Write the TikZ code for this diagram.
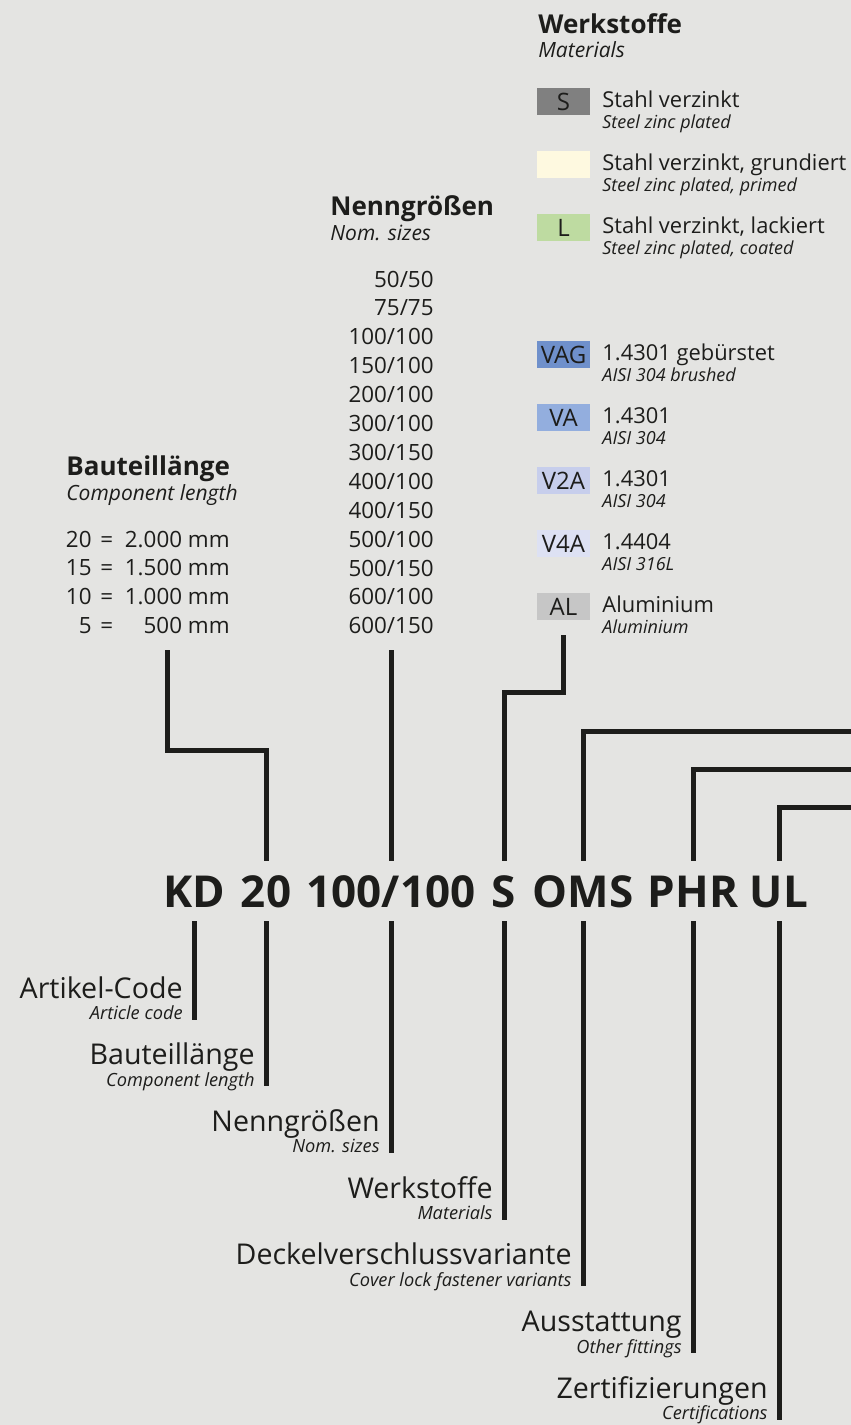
\documentclass[tikz,border=0pt]{standalone}
\usepackage{fontspec}
\setmainfont{Open Sans}
\usetikzlibrary{positioning, calc}
\definecolor{tinte}{HTML}{1D1D1B}
\definecolor{grund}{HTML}{E4E4E2}
\definecolor{stahl}{HTML}{808080}
\definecolor{grundiert}{HTML}{FEF9E0}
\definecolor{lackiert}{HTML}{BEDBA1}
\definecolor{vag}{HTML}{6F90CB}
\definecolor{va}{HTML}{93AEDE}
\definecolor{vzwei}{HTML}{C7CEEC}
\definecolor{vvier}{HTML}{DDE1F3}
\definecolor{alu}{HTML}{C6C6C6}
\tikzset{
  code/.style={anchor=base, inner xsep=0pt, inner ysep=7pt, text height=16pt, text depth=0pt,
               font=\fontsize{22}{24}\selectfont\bfseries, text=tinte},
  lbl/.style={anchor=base east, inner sep=0pt, font=\fontsize{14.3}{16}\selectfont, text=tinte},
  lblsub/.style={anchor=base east, inner sep=0pt, font=\fontsize{9.1}{11}\selectfont\itshape, text=tinte},
  kopf/.style={anchor=base west, inner sep=0pt, font=\fontsize{13}{15}\selectfont\bfseries, text=tinte},
  kopfsub/.style={anchor=base west, inner sep=0pt, font=\fontsize{10.5}{12}\selectfont\itshape, text=tinte},
  eintrag/.style={anchor=base west, inner sep=0pt, font=\fontsize{10.95}{13}\selectfont, text=tinte},
  eintragsub/.style={anchor=base west, inner sep=0pt, font=\fontsize{9}{11}\selectfont\itshape, text=tinte},
  feld/.style={rectangle, minimum width=26.5pt, minimum height=13.5pt, inner sep=0pt,
               text height=8.5pt, text depth=0pt, font=\fontsize{12}{14}\selectfont, text=tinte},
  zahl/.style={anchor=base east, inner sep=0pt, font=\fontsize{11.2}{13}\selectfont, text=tinte},
  zahll/.style={anchor=base west, inner sep=0pt, font=\fontsize{11.2}{13}\selectfont, text=tinte},
  balken/.style={line width=2.5pt, draw=tinte}
}
\begin{document}
\begin{tikzpicture}[x=0.5pt, y=-0.5pt]
  \fill [grund] (0,0) rectangle (851,1425);
  \useasboundingbox (0,0) rectangle (851,1425);

  % Werkstoffe
  \node (hW) [kopf] at (538,33) {Werkstoffe};
  \node (hWs) [kopfsub] at (538,57) {Materials};
  \node (fS) [feld, fill=stahl] at (563.5,101.5) {S};
  \node (eS) [eintrag] at (602,107) {Stahl verzinkt};
  \node (eSs) [eintragsub] at (602,128) {Steel zinc plated};
  \node (fG) [feld, fill=grundiert] at (563.5,164.5) {};
  \node (eG) [eintrag] at (602,170) {Stahl verzinkt, grundiert};
  \node (eGs) [eintragsub] at (602,191) {Steel zinc plated, primed};
  \node (fL) [feld, fill=lackiert] at (563.5,227.5) {L};
  \node (eL) [eintrag] at (602,233) {Stahl verzinkt, lackiert};
  \node (eLs) [eintragsub] at (602,254) {Steel zinc plated, coated};
  \node (fVAG) [feld, fill=vag] at (563.5,354.5) {VAG};
  \node (eVAG) [eintrag] at (602,360) {1.4301 gebürstet};
  \node (eVAGs) [eintragsub] at (602,381) {AISI 304 brushed};
  \node (fVA) [feld, fill=va] at (563.5,417.5) {VA};
  \node (eVA) [eintrag] at (602,423) {1.4301};
  \node (eVAs) [eintragsub] at (602,444) {AISI 304};
  \node (fV2A) [feld, fill=vzwei] at (563.5,480.5) {V2A};
  \node (eV2A) [eintrag] at (602,486) {1.4301};
  \node (eV2As) [eintragsub] at (602,507) {AISI 304};
  \node (fV4A) [feld, fill=vvier] at (563.5,543.5) {V4A};
  \node (eV4A) [eintrag] at (602,549) {1.4404};
  \node (eV4As) [eintragsub] at (602,570) {AISI 316L};
  \node (fAL) [feld, fill=alu] at (563.5,606.5) {AL};
  \node (eAL) [eintrag] at (602,612) {Aluminium};
  \node (eALs) [eintragsub] at (602,633) {Aluminium};

  % Nenngroessen
  \node (hN) [kopf] at (330,215) {Nenngrößen};
  \node (hNs) [kopfsub] at (330,240) {Nom. sizes};
  \foreach \a/\b [count=\k from 0] in {50/50, 75/75, 100/100, 150/100, 200/100, 300/100, 300/150,
      400/100, 400/150, 500/100, 500/150, 600/100, 600/150}
    \node (nz\k) [zahl] at (434,{287+28.9*\k}) {\a/\b};

  % Bauteillaenge
  \node (hB) [kopf] at (66,475) {Bauteillänge};
  \node (hBs) [kopfsub] at (66,500) {Component length};
  \foreach \n/\mm [count=\k from 0] in {20/2.000, 15/1.500, 10/1.000, 5/500} {
    \node (bl\k) [zahl] at (92,{547+28.9*\k}) {\n};
    \node (bq\k) [zahll] at (100,{547+28.9*\k}) {=};
    \node (bm\k) [zahl] at (230,{547+28.9*\k}) {\mm\ mm};
  }

  % Artikelnummer
  \node (tKD) [code] at (194,907) {KD};
  \node (t20) [code] at (266,907) {20};
  \node (t100) [code] at (391,907) {100/100};
  \node (tS) [code] at (504,907) {S};
  \node (tOMS) [code] at (583,907) {OMS};
  \node (tPHR) [code] at (693,907) {PHR};
  \node (tUL) [code] at (779,907) {UL};

  \coordinate (knieB) at (167,750);
  \coordinate (obenB) at (167,650);
  \coordinate (knieS) at (563.5,692);
  \coordinate (rOMS) at (860,731);
  \coordinate (rPHR) at (860,769);
  \coordinate (rUL) at (860,807);
  \draw [balken] (t20.north) |- (knieB) -- (obenB);
  \draw [balken] (t100.north) -- (t100.north |- obenB);
  \draw [balken] (tS.north) |- (knieS) -- ([yshift=-7.5pt]fAL.south);
  \draw [balken] (tOMS.north) |- (rOMS);
  \draw [balken] (tPHR.north) |- (rPHR);
  \draw [balken] (tUL.north) |- (rUL);

  % Beschriftung unten
  \node (lKD) [lbl] at (183,998) {Artikel-Code};
  \node (lKDs) [lblsub] at (183,1019.5) {Article code};
  \node (l20) [lbl] at (255,1064.7) {Bauteillänge};
  \node (l20s) [lblsub] at (255,1086.2) {Component length};
  \node (l100) [lbl] at (380,1131.4) {Nenngrößen};
  \node (l100s) [lblsub] at (380,1152.9) {Nom. sizes};
  \node (lS) [lbl] at (493,1198.1) {Werkstoffe};
  \node (lSs) [lblsub] at (493,1219.6) {Materials};
  \node (lOMS) [lbl] at (572,1264.8) {Deckelverschlussvariante};
  \node (lOMSs) [lblsub] at (572,1286.3) {Cover lock fastener variants};
  \node (lPHR) [lbl] at (682,1331.5) {Ausstattung};
  \node (lPHRs) [lblsub] at (682,1353) {Other fittings};
  \node (lUL) [lbl] at (768,1398.2) {Zertifizierungen};
  \node (lULs) [lblsub] at (768,1419.7) {Certifications};

  \draw [balken] (tKD.south) -- (tKD.south |- lKDs.base);
  \draw [balken] (t20.south) -- (t20.south |- l20s.base);
  \draw [balken] (t100.south) -- (t100.south |- l100s.base);
  \draw [balken] (tS.south) -- (tS.south |- lSs.base);
  \draw [balken] (tOMS.south) -- (tOMS.south |- lOMSs.base);
  \draw [balken] (tPHR.south) -- (tPHR.south |- lPHRs.base);
  \draw [balken] (tUL.south) -- (tUL.south |- lULs.base);
\end{tikzpicture}
\end{document}
